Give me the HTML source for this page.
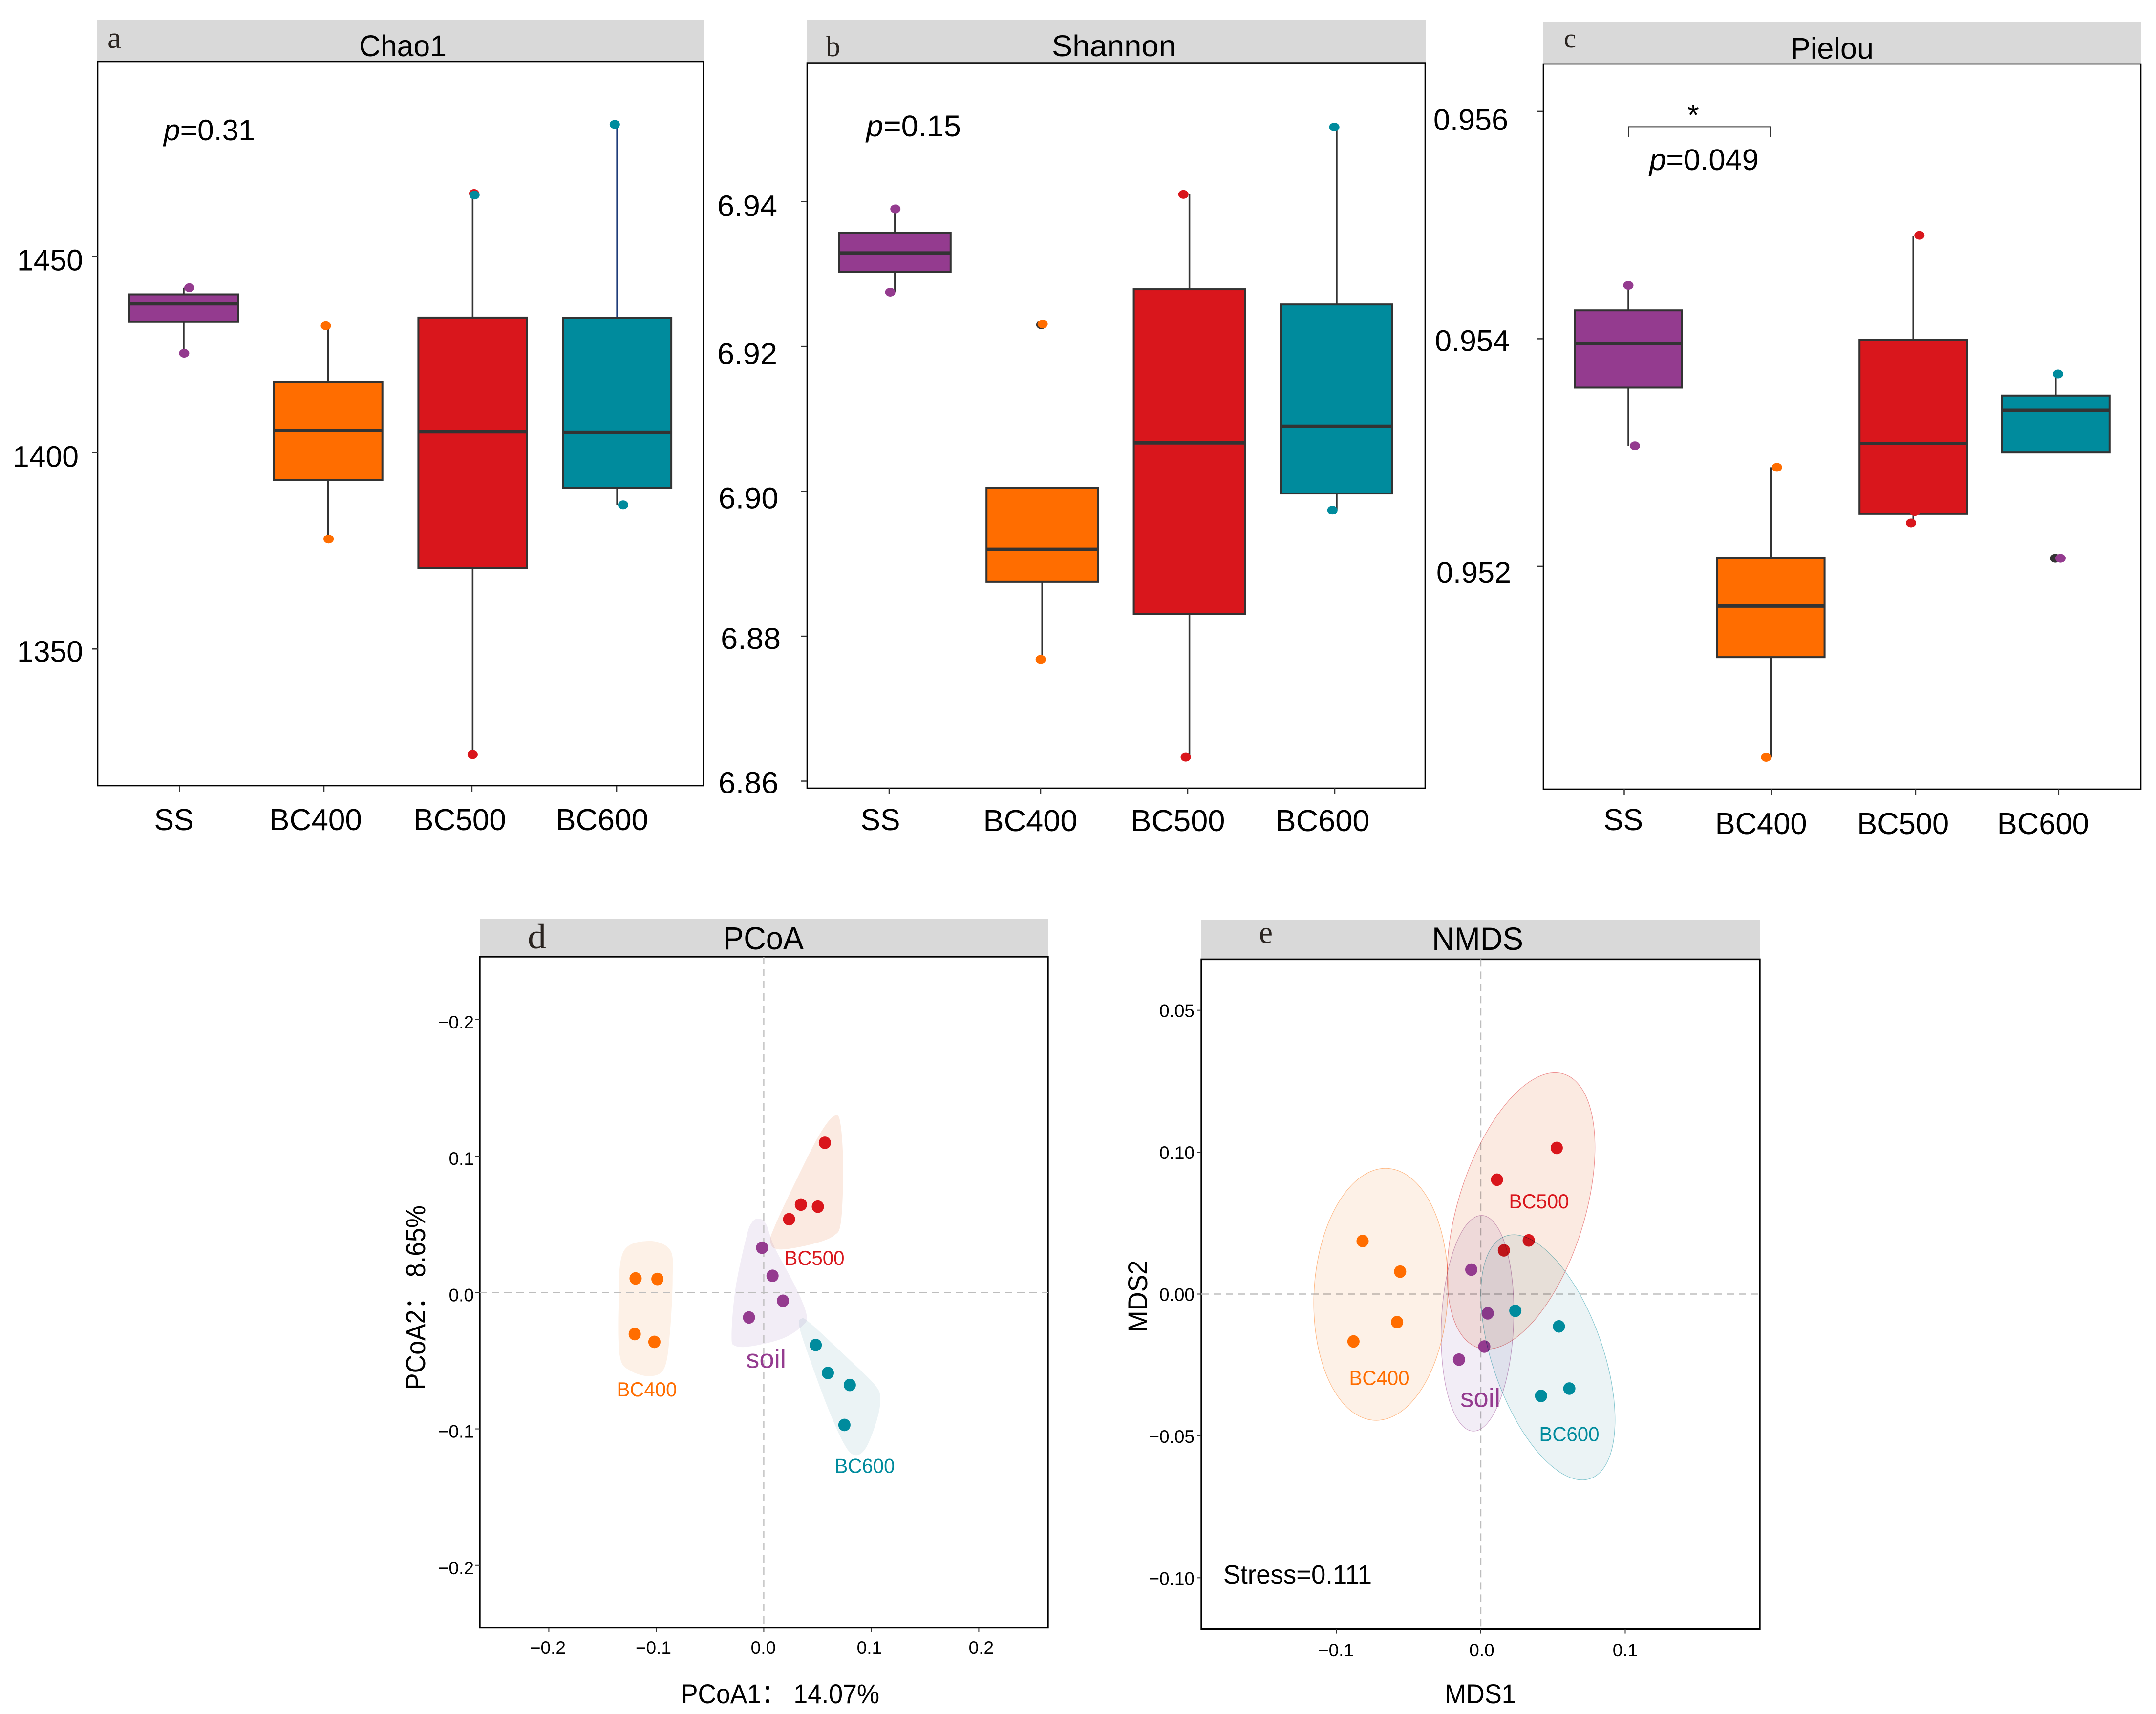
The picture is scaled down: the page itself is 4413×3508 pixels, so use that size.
<!DOCTYPE html>
<html lang="en">
<head>
<meta charset="utf-8">
<title>Alpha and beta diversity panels</title>
<style>
html,body{margin:0;padding:0;background:#fff;}
svg{display:block;font-family:"Liberation Sans","Noto Sans CJK SC",sans-serif;}
.strip{fill:#d9d9d9;}
.frame{fill:none;stroke:#000;stroke-width:2.6;}
.frame2{fill:none;stroke:#000;stroke-width:3.4;}
.letter{font-family:"Liberation Serif","DejaVu Serif",serif;fill:#2a2420;}
</style>
</head>
<body>
<svg id="figure" xmlns="http://www.w3.org/2000/svg" width="4413" height="3508" viewBox="0 0 4413 3508">
  <rect x="0" y="0" width="4413" height="3508" fill="#fff"/>

  <rect class="strip" x="199" y="41" width="1242" height="85"/>
  <rect class="frame" x="200" y="126" width="1240" height="1482"/>
  <text class="letter" x="220" y="98" font-size="62" textLength="28" lengthAdjust="spacingAndGlyphs">a</text>
  <text x="735" y="115" font-size="61" textLength="179" lengthAdjust="spacingAndGlyphs">Chao1</text>
  <text x="335" y="287" font-size="60" textLength="187" lengthAdjust="spacingAndGlyphs"><tspan font-style="italic">p</tspan>=0.31</text>

  <rect class="strip" x="1651" y="41" width="1267" height="87.6"/>
  <rect class="frame" x="1652" y="128.6" width="1265" height="1484.4"/>
  <text class="letter" x="1690" y="115" font-size="60" textLength="30" lengthAdjust="spacingAndGlyphs">b</text>
  <text x="2153" y="115" font-size="61" textLength="254" lengthAdjust="spacingAndGlyphs">Shannon</text>
  <text x="1773" y="279" font-size="61" textLength="194" lengthAdjust="spacingAndGlyphs"><tspan font-style="italic">p</tspan>=0.15</text>

  <rect class="strip" x="3158" y="45" width="1225" height="86"/>
  <rect class="frame" x="3159" y="131" width="1223" height="1484"/>
  <text class="letter" x="3201" y="97" font-size="56" textLength="25" lengthAdjust="spacingAndGlyphs">c</text>
  <text x="3665" y="120" font-size="61" textLength="170" lengthAdjust="spacingAndGlyphs">Pielou</text>
  <path d="M3333 281V259.4H3624V281" fill="none" stroke="#333" stroke-width="2"/>
  <text x="3466" y="257" font-size="62" text-anchor="middle">*</text>
  <text x="3376" y="348" font-size="61" textLength="224" lengthAdjust="spacingAndGlyphs"><tspan font-style="italic">p</tspan>=0.049</text>

  <rect class="strip" x="982" y="1880" width="1163" height="78"/>
  <rect class="frame2" x="982" y="1958" width="1163" height="1373.5"/>
  <text class="letter" x="1080" y="1941" font-size="72" textLength="38" lengthAdjust="spacingAndGlyphs">d</text>
  <text x="1480" y="1943" font-size="66" textLength="165" lengthAdjust="spacingAndGlyphs">PCoA</text>
  <text x="1394" y="3486" font-size="56" textLength="406" lengthAdjust="spacingAndGlyphs">PCoA1： 14.07%</text>
  <text transform="translate(870,2656) rotate(-90)" text-anchor="middle" font-size="56" textLength="378" lengthAdjust="spacingAndGlyphs">PCoA2： 8.65%</text>

  <rect class="strip" x="2459" y="1882.6" width="1143" height="80.8"/>
  <rect class="frame2" x="2459" y="1963.4" width="1143" height="1371.2"/>
  <text class="letter" x="2577" y="1930" font-size="66" textLength="28" lengthAdjust="spacingAndGlyphs">e</text>
  <text x="2931" y="1944" font-size="66" textLength="187" lengthAdjust="spacingAndGlyphs">NMDS</text>
  <text x="2957" y="3486" font-size="56" textLength="146" lengthAdjust="spacingAndGlyphs">MDS1</text>
  <text transform="translate(2348,2653) rotate(-90)" text-anchor="middle" font-size="56" textLength="147" lengthAdjust="spacingAndGlyphs">MDS2</text>
  <text x="2504" y="3241" font-size="54" textLength="304" lengthAdjust="spacingAndGlyphs">Stress=0.111</text>

  <g id="plots"></g>
</svg>

<script>
const boxCategories = ['SS', 'BC400', 'BC500', 'BC600'];
const groupColors = ['#943b8f', '#ff6d00', '#d9161c', '#008b9d'];

const chao1Ticks = [1450, 1400, 1350];
const chao1Q1 = [1433.3, 1393, 1370.6, 1391];
const chao1Median = [1437.9, 1405.6, 1405.3, 1405.1];
const chao1Q3 = [1440.3, 1418, 1434.4, 1434.3];
const chao1WhiskerLow = [1425.3, 1378, 1323.1, 1386.7];
const chao1WhiskerHigh = [1442, 1432.3, 1466, 1483.6];
const chao1Points = [[1442, 1425.3], [1432.3, 1378], [1466, 1465.6, 1323.1], [1483.6, 1386.7]];
const chao1Jitter = [[0.039, 0.003], [-0.016, 0.003], [0.01, 0.013, 0], [-0.016, 0.042]];
const chao1Ink = [[0, 0], [1, 1], [2, 3, 2], [3, 3]];

const shannonTicks = [6.94, 6.92, 6.90, 6.88, 6.86];
const shannonQ1 = [6.9303, 6.8875, 6.8831, 6.8997];
const shannonMedian = [6.9329, 6.892, 6.9067, 6.909];
const shannonQ3 = [6.9357, 6.9005, 6.9279, 6.9258];
const shannonWhiskerLow = [6.9275, 6.8768, 6.8633, 6.8974];
const shannonWhiskerHigh = [6.939, 6.9005, 6.941, 6.9503];
const shannonPoints = [[6.939, 6.9275], [6.923, 6.9231, 6.8768], [6.941, 6.8633], [6.9503, 6.8974]];
const shannonJitter = [[0.003, -0.032], [-0.006, 0.003, -0.01], [-0.041, -0.025], [-0.016, -0.029]];
const shannonInk = [[0, 0], [4, 1, 1], [2, 2], [3, 3]];

const pielouTicks = [0.956, 0.954, 0.952];
const pielouQ1 = [0.95357, 0.9512, 0.95246, 0.953];
const pielouMedian = [0.95396, 0.95165, 0.95308, 0.95337];
const pielouQ3 = [0.95425, 0.95207, 0.95399, 0.9535];
const pielouWhiskerLow = [0.95306, 0.95032, 0.95238, 0.953];
const pielouWhiskerHigh = [0.95447, 0.95287, 0.9549, 0.95369];
const pielouPoints = [[0.95447, 0.95306], [0.95287, 0.95032], [0.95491, 0.95248, 0.95238], [0.95369, 0.95207, 0.95207]];
const pielouJitter = [[0, 0.046], [0.043, -0.033], [0.043, 0.01, -0.016], [0.016, -0.003, 0.033]];
const pielouInk = [[0, 0], [1, 1], [2, 2, 2], [3, 4, 0]];

const ordinationGroups = ['soil', 'BC400', 'BC500', 'BC600'];

const pcoaXTicks = [-0.2, -0.1, 0, 0.1, 0.2];
const pcoaXTickLabels = ['−0.2', '−0.1', '0.0', '0.1', '0.2'];
const pcoaYTicks = [0.2, 0.1, 0, -0.1, -0.2];
const pcoaYTickLabels = ['−0.2', '0.1', '0.0', '−0.1', '−0.2'];
const pcoaSoilPoints = [[-0.0016, 0.0328], [0.0081, 0.0122], [0.0178, -0.0061], [-0.0138, -0.0183]];
const pcoaBC400Points = [[-0.1193, 0.0103], [-0.099, 0.0099], [-0.1201, -0.0305], [-0.1018, -0.0362]];
const pcoaBC500Points = [[0.0568, 0.1097], [0.0345, 0.0644], [0.0503, 0.0629], [0.0235, 0.0537]];
const pcoaBC600Points = [[0.0483, -0.0385], [0.0596, -0.059], [0.08, -0.0678], [0.075, -0.0971]];
const pcoaSoilHull = [[-0.0049, 0.0541], [0.002, 0.0503], [0.0101, 0.0331], [0.0304, 0.0027], [0.0398, -0.0164], [0.0365, -0.024], [0.0183, -0.0335], [-0.0101, -0.0392], [-0.0264, -0.0392], [-0.03, -0.0316], [-0.0264, 0.0027], [-0.0162, 0.0408], [-0.011, 0.0514]];
const pcoaBC400Hull = [[-0.1075, 0.0377], [-0.0872, 0.0312], [-0.0848, 0.0103], [-0.0872, -0.0278], [-0.0921, -0.0545], [-0.1047, -0.0613], [-0.1237, -0.0575], [-0.1339, -0.0469], [-0.1351, -0.0088], [-0.131, 0.0293]];
const pcoaBC500Hull = [[0.0669, 0.1299], [0.0718, 0.1208], [0.0738, 0.0903], [0.0718, 0.0522], [0.0649, 0.0415], [0.0426, 0.035], [0.0142, 0.0316], [0.0061, 0.037], [0.0101, 0.0484], [0.0304, 0.0827], [0.0527, 0.117]];
const pcoaBC600Hull = [[0.0345, -0.0194], [0.0426, -0.0221], [0.0791, -0.0488], [0.1034, -0.0678], [0.1083, -0.0773], [0.1055, -0.0926], [0.0953, -0.1135], [0.0852, -0.1192], [0.0751, -0.1116], [0.0588, -0.083], [0.0385, -0.0392], [0.0329, -0.024]];

const nmdsXTicks = [-0.1, 0, 0.1];
const nmdsXTickLabels = ['−0.1', '0.0', '0.1'];
const nmdsYTicks = [0.10, 0.05, 0, -0.05, -0.10];
const nmdsYTickLabels = ['0.05', '0.10', '0.00', '−0.05', '−0.10'];
const nmdsSoilPoints = [[-0.0066, 0.0086], [0.0048, -0.0068], [0.0024, -0.0185], [-0.0151, -0.0231]];
const nmdsBC400Points = [[-0.0819, 0.0187], [-0.0559, 0.0079], [-0.058, -0.0099], [-0.0882, -0.0167]];
const nmdsBC500Points = [[0.0526, 0.0515], [0.0112, 0.0403], [0.0332, 0.0189], [0.016, 0.0154]];
const nmdsBC600Points = [[0.0239, -0.0059], [0.0541, -0.0114], [0.0613, -0.0333], [0.0417, -0.0359]];
// ellipse parameters: centre x, centre y, half-extent x, half-extent y, correlation
const nmdsSoilEllipse = [-0.0023, -0.0103, 0.0252, 0.038, 0.11];
const nmdsBC400Ellipse = [-0.0692, -0.0001, 0.0465, 0.0444, 0.07];
const nmdsBC500Ellipse = [0.0279, 0.0293, 0.0512, 0.0487, 0.46];
const nmdsBC600Ellipse = [0.0465, -0.0223, 0.0465, 0.0432, -0.51];

const NS = 'http://www.w3.org/2000/svg';
const plots = document.getElementById('plots');
const inkColors = groupColors.concat(['#333333']);
const paleFills = ['#f2edf6', '#fdf1e7', '#fbeae1', '#ebf3f5'];

function shape(tag, attrs, parent) {
  const node = document.createElementNS(NS, tag);
  for (const k in attrs) node.setAttribute(k, attrs[k]);
  (parent || plots).appendChild(node);
  return node;
}
function linear(d0, r0, unit) { return v => r0 + (v - d0) * unit; }

function drawBoxPanel(p) {
  const y = linear(p.yAnchor, p.yAnchorPx, p.yUnit);
  const x = i => p.x0 + i * p.step;
  const g = shape('g', {});
  
  

  p.ticks.forEach((t, i) => {
    const tick = shape('line', {x1: p.left - 12, x2: p.left, y1: y(t), y2: y(t), stroke: '#333', 'stroke-width': 2.5}, g);
    
    
    const label = shape('text', {x: p.tickRight[i], y: y(t) + p.tickDy[i], 'text-anchor': 'end', 'font-size': 61, textLength: p.tickW, lengthAdjust: 'spacingAndGlyphs'}, g);
    label.textContent = p.tickFmt(t);
    
    
  });

  boxCategories.forEach((c, i) => {
    const tx = x(i) + p.xTickNudge[i];
    const xt = shape('line', {x1: tx, x2: tx, y1: p.bottom, y2: p.bottom + 12, stroke: '#333', 'stroke-width': 2.5}, g);
    
    
    const lab = shape('text', {x: x(i) + p.labelNudge[i], y: p.labelBase[i], 'text-anchor': 'middle', 'font-size': 62, textLength: i === 0 ? 81 : p.catW, lengthAdjust: 'spacingAndGlyphs'}, g);
    lab.textContent = c;
    
    

    const upColor = (p.name === 'chao1' && i === 3) ? '#1f3d7a' : '#333';
    const wh = shape('line', {x1: x(i), x2: x(i), y1: y(p.whiskerHigh[i]), y2: y(p.q3[i]), stroke: upColor, 'stroke-width': 3.5}, g);
    
    
    const wl = shape('line', {x1: x(i), x2: x(i), y1: y(p.q1[i]), y2: y(p.whiskerLow[i]), stroke: '#333', 'stroke-width': 3.5}, g);
    
    
    const box = shape('rect', {x: x(i) - p.halfW, y: y(p.q3[i]), width: p.halfW * 2, height: y(p.q1[i]) - y(p.q3[i]), fill: groupColors[i], stroke: '#333', 'stroke-width': 4}, g);
    
    
    const med = shape('line', {x1: x(i) - p.halfW, x2: x(i) + p.halfW, y1: y(p.median[i]), y2: y(p.median[i]), stroke: '#333', 'stroke-width': 7}, g);
    
    

    p.points[i].forEach((v, k) => {
      const dot = shape('ellipse', {cx: x(i + p.jitter[i][k]), cy: y(v), rx: 10.5, ry: 9, fill: inkColors[p.ink[i][k]]}, g);
      
      
    });
  });
}

function fmtFixed(n) { return v => v.toFixed(n); }

drawBoxPanel({
  name: 'chao1', left: 200, bottom: 1608, x0: 376, step: 295.7, halfW: 111,
  yAnchor: 1400, yAnchorPx: 926.4, yUnit: -8.037,
  ticks: chao1Ticks, q1: chao1Q1, median: chao1Median, q3: chao1Q3,
  whiskerLow: chao1WhiskerLow, whiskerHigh: chao1WhiskerHigh,
  points: chao1Points, jitter: chao1Jitter, ink: chao1Ink, tickFmt: fmtFixed(0),
  tickRight: [170, 161, 170], tickDy: [29, 29, 26], tickW: 135, catW: 190,
  xTickNudge: [-8.5, -8.7, -1.5, -1], labelNudge: [-20, -25.7, -26.4, -31], labelBase: [1699, 1699, 1699, 1699]
});
drawBoxPanel({
  name: 'shannon', left: 1652, bottom: 1613, x0: 1831.8, step: 301.4, halfW: 114,
  yAnchor: 6.9, yAnchorPx: 1005.6, yUnit: -14823,
  ticks: shannonTicks, q1: shannonQ1, median: shannonMedian, q3: shannonQ3,
  whiskerLow: shannonWhiskerLow, whiskerHigh: shannonWhiskerHigh,
  points: shannonPoints, jitter: shannonJitter, ink: shannonInk, tickFmt: fmtFixed(2),
  tickRight: [1591, 1591, 1593.5, 1598, 1593.5], tickDy: [30, 36, 35, 26, 25], tickW: 123, catW: 193,
  xTickNudge: [-11.8, -3.2, -3.6, -4], labelNudge: [-29.8, -24.2, -23.6, -29], labelBase: [1699, 1701, 1701, 1701]
});
drawBoxPanel({
  name: 'pielou', left: 3159, bottom: 1615, x0: 3333, step: 291.6, halfW: 110,
  yAnchor: 0.954, yAnchorPx: 693.4, yUnit: -232757,
  ticks: pielouTicks, q1: pielouQ1, median: pielouMedian, q3: pielouQ3,
  whiskerLow: pielouWhiskerLow, whiskerHigh: pielouWhiskerHigh,
  points: pielouPoints, jitter: pielouJitter, ink: pielouInk, tickFmt: fmtFixed(3),
  tickRight: [3087, 3090, 3093], tickDy: [38, 25, 34], tickW: 153, catW: 188,
  xTickNudge: [-8.5, 1, 4.7, 6], labelNudge: [-10.4, -20, -21, -26], labelBase: [1699, 1707, 1707, 1707]
});

function closedSpline(pts) {
  const n = pts.length;
  let d = 'M' + pts[0][0].toFixed(1) + ' ' + pts[0][1].toFixed(1);
  for (let i = 0; i < n; i++) {
    const p0 = pts[(i - 1 + n) % n], p1 = pts[i], p2 = pts[(i + 1) % n], p3 = pts[(i + 2) % n];
    const c1x = p1[0] + (p2[0] - p0[0]) / 6, c1y = p1[1] + (p2[1] - p0[1]) / 6;
    const c2x = p2[0] - (p3[0] - p1[0]) / 6, c2y = p2[1] - (p3[1] - p1[1]) / 6;
    d += 'C' + c1x.toFixed(1) + ' ' + c1y.toFixed(1) + ' ' + c2x.toFixed(1) + ' ' + c2y.toFixed(1) + ' ' + p2[0].toFixed(1) + ' ' + p2[1].toFixed(1);
  }
  return d + 'Z';
}

function drawOrdinationAxes(p, x, y, g) {
  const hz = shape('line', {x1: p.left, x2: p.right, y1: y(0), y2: y(0), stroke: '#bdbdbd', 'stroke-width': 2.4, 'stroke-dasharray': '15 10'}, g);
  
  
  const vt = shape('line', {x1: x(0), x2: x(0), y1: p.top, y2: p.bottom, stroke: '#bdbdbd', 'stroke-width': 2.4, 'stroke-dasharray': '15 10'}, g);
  
  
  p.xTicks.forEach((t, i) => {
    const tk = shape('line', {x1: x(t), x2: x(t), y1: p.bottom, y2: p.bottom + 9, stroke: '#333', 'stroke-width': 2}, g);
    
    
    const lb = shape('text', {x: x(t) + p.xLabelNudge[i], y: p.xLabelBase, 'text-anchor': 'middle', 'font-size': 37}, g);
    lb.textContent = p.xLabels[i];
    
    
  });
  p.yTicks.forEach((t, i) => {
    const tk = shape('line', {x1: p.left - 9, x2: p.left, y1: y(t), y2: y(t), stroke: '#333', 'stroke-width': 2}, g);
    
    
    const lb = shape('text', {x: p.yLabelRight, y: y(t) + p.yLabelDy, 'text-anchor': 'end', 'font-size': 37}, g);
    lb.textContent = p.yLabels[i];
    
    
  });
}

function drawDots(name, pts, color, x, y, g) {
  pts.forEach(pt => {
    const dot = shape('ellipse', {cx: x(pt[0]), cy: y(pt[1]), rx: 12.5, ry: 12.8, fill: color}, g);
    
    
  });
}

function drawGroupLabel(text, px, py, width, size, color, g) {
  const t = shape('text', {x: px, y: py, 'font-size': size, fill: color, 'text-anchor': 'middle', textLength: width, lengthAdjust: 'spacingAndGlyphs'}, g);
  t.textContent = text;
  
  
}

(function drawPcoa() {
  const x = linear(0, 1563.4, 2200);
  const y = linear(0, 2645.3, -2792.5);
  const g = shape('g', {style: 'isolation:isolate'});
  
  
  const hulls = [pcoaBC400Hull, pcoaBC500Hull, pcoaSoilHull, pcoaBC600Hull];
  const hullIdx = [1, 2, 0, 3];
  hulls.forEach((h, k) => {
    const hull = shape('path', {d: closedSpline(h.map(q => [x(q[0]), y(q[1])])), fill: paleFills[hullIdx[k]], style: 'mix-blend-mode:multiply'}, g);
    
    
  });
  drawOrdinationAxes({
    name: 'pcoa', left: 982, right: 2145, top: 1958, bottom: 3331.5,
    xTicks: pcoaXTicks, xLabels: pcoaXTickLabels, xLabelNudge: [-2, -6, -1, -4, 5], xLabelBase: 3385,
    yTicks: pcoaYTicks, yLabels: pcoaYTickLabels, yLabelRight: 970, yLabelDy: 18
  }, x, y, g);
  drawDots('pcoa-soil', pcoaSoilPoints, groupColors[0], x, y, g);
  drawDots('pcoa-bc400', pcoaBC400Points, groupColors[1], x, y, g);
  drawDots('pcoa-bc500', pcoaBC500Points, groupColors[2], x, y, g);
  drawDots('pcoa-bc600', pcoaBC600Points, groupColors[3], x, y, g);
  drawGroupLabel('soil', 1568, 2799.6, 82, 54, groupColors[0], g);
  drawGroupLabel('BC400', 1324, 2858, 123, 42, groupColors[1], g);
  drawGroupLabel('BC500', 1667, 2589, 123, 42, groupColors[2], g);
  drawGroupLabel('BC600', 1770, 3014.5, 123, 42, groupColors[3], g);
})();

(function drawNmds() {
  const x = linear(0, 3031, 2955);
  const y = linear(0, 2648.5, -5808);
  const g = shape('g', {style: 'isolation:isolate'});
  
  
  function ellipse(e, idx) {
    const phi = Math.acos(e[4]);
    const pts = [];
    for (let i = 0; i < 96; i++) {
      const t = i / 96 * Math.PI * 2;
      pts.push([x(e[0] + e[2] * Math.cos(t)), y(e[1] + e[3] * Math.cos(t - phi))]);
    }
    const el = shape('path', {d: closedSpline(pts), fill: paleFills[idx], stroke: groupColors[idx], 'stroke-width': 1.2, 'stroke-opacity': 0.45, style: 'mix-blend-mode:multiply'}, g);
    
    
  }
  drawOrdinationAxes({
    name: 'nmds', left: 2459, right: 3602, top: 1963.4, bottom: 3334.6,
    xTicks: nmdsXTicks, xLabels: nmdsXTickLabels, xLabelNudge: [-1, 2, 0], xLabelBase: 3390,
    yTicks: nmdsYTicks, yLabels: nmdsYTickLabels, yLabelRight: 2445, yLabelDy: 14
  }, x, y, g);
  ellipse(nmdsBC400Ellipse, 1);
  ellipse(nmdsBC500Ellipse, 2);
  drawDots('nmds-bc400', nmdsBC400Points, groupColors[1], x, y, g);
  drawDots('nmds-bc500', nmdsBC500Points, groupColors[2], x, y, g);
  ellipse(nmdsSoilEllipse, 0);
  drawDots('nmds-soil', nmdsSoilPoints, groupColors[0], x, y, g);
  ellipse(nmdsBC600Ellipse, 3);
  drawDots('nmds-bc600', nmdsBC600Points, groupColors[3], x, y, g);
  drawGroupLabel('soil', 3030, 2879.3, 82, 54, groupColors[0], g);
  drawGroupLabel('BC400', 2823, 2834.7, 123, 42, groupColors[1], g);
  drawGroupLabel('BC500', 3150, 2473, 123, 42, groupColors[2], g);
  drawGroupLabel('BC600', 3212, 2949.6, 123, 42, groupColors[3], g);
})();
</script>
</body>
</html>
